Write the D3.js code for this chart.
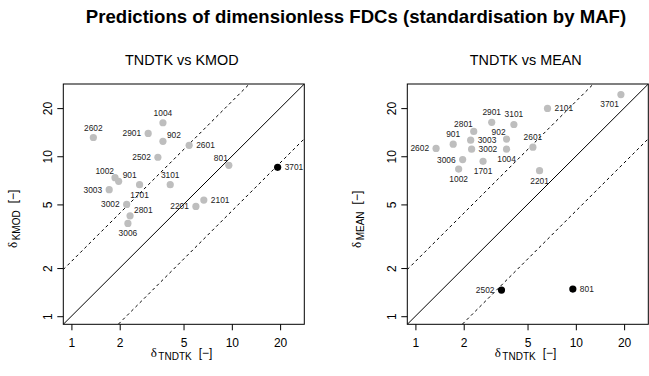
<!DOCTYPE html>
<html>
<head>
<meta charset="utf-8">
<script src="https://cdn.jsdelivr.net/npm/d3@7"></script>
<style>
  html, body { margin: 0; padding: 0; background: #fff; }
  svg { display: block; }
  text { font-family: "Liberation Sans", Arial, Helvetica, sans-serif; }
</style>
</head>
<body>
<svg id="chart" width="649" height="376"></svg>
<script>
// TNDTK vs KMOD
const kmodSites   = ["2602","1004","2901","902","2601","2502","801","3701","1002","901","1701","3101","3003","3002","2101","2201","2801","3006"];
const kmodTndtk   = [1.37, 3.72, 3.01, 3.72, 5.42, 3.46, 9.58, 19.3, 1.87, 1.97, 2.66, 4.13, 1.72, 2.21, 6.69, 5.97, 2.32, 2.25];
const kmodValues  = [13.1, 16.2, 13.9, 12.4, 11.7, 9.86, 8.78, 8.53, 7.35, 6.97, 6.64, 6.64, 6.18, 5.0, 5.32, 4.86, 4.24, 3.80];
const kmodFlagged = ["3701"];
const kmodLabelAt = ["n","n","w","ne","e","w","nw","e","nw","ne","s","n","w","w","e","w","ne","s"];

// TNDTK vs MEAN
const meanSites   = ["3701","2101","2901","3101","2801","902","3003","901","2602","3002","1004","2601","3006","1701","1002","2201","2502","801"];
const meanTndtk   = [19.1, 6.66, 2.99, 4.11, 2.31, 3.70, 2.21, 1.72, 1.345, 2.24, 3.70, 5.40, 1.97, 2.64, 1.86, 5.94, 3.44, 9.58];
const meanValues  = [24.3, 19.9, 16.3, 15.8, 14.3, 12.8, 12.6, 11.9, 11.2, 11.07, 11.07, 11.4, 9.53, 9.30, 8.32, 8.13, 1.456, 1.477];
const meanFlagged = ["2502","801"];
const meanLabelAt = ["sw","e","n","n","nw","nw","e","n","w","e","s","n","w","s","s","s","w","e"];

const tickValues = [1, 2, 5, 10, 20];
const axisDomain = [0.89, 28.3];
const bandFactor = 2.2;   // dashed envelope: y = x*f and y = x/f

const title = "Predictions of dimensionless FDCs (standardisation by MAF)";

const svg = d3.select("#chart");

svg.append("text")
  .attr("x", 356).attr("y", 23)
  .attr("text-anchor", "middle")
  .attr("font-size", "18.6px")
  .attr("font-weight", "bold")
  .text(title);

const panels = [
  { left: 63.3, sub: "KMOD", heading: "TNDTK vs KMOD", sites: kmodSites, xs: kmodTndtk, ys: kmodValues, flagged: kmodFlagged, labelAt: kmodLabelAt },
  { left: 407.3, sub: "MEAN", heading: "TNDTK vs MEAN", sites: meanSites, xs: meanTndtk, ys: meanValues, flagged: meanFlagged, labelAt: meanLabelAt }
];

const boxW = 241, boxTop = 84, boxBottom = 324.3;

panels.forEach((p, i) => {
  const x = d3.scaleLog().domain(axisDomain).range([p.left, p.left + boxW]);
  const y = d3.scaleLog().domain(axisDomain).range([boxBottom, boxTop]);
  const g = svg.append("g");

  const clipId = "clip" + i;
  svg.append("clipPath").attr("id", clipId)
    .append("rect").attr("x", p.left).attr("y", boxTop)
    .attr("width", boxW).attr("height", boxBottom - boxTop);

  // panel heading
  g.append("text")
    .attr("x", p.left + boxW / 2 - 2).attr("y", 64.5)
    .attr("text-anchor", "middle")
    .attr("font-size", "14.4px")
    .text(p.heading);

  // reference lines
  const lines = g.append("g").attr("clip-path", `url(#${clipId})`);
  const lo = axisDomain[0] / 3, hi = axisDomain[1] * 3;
  const seg = (f) => d3.line()([[x(lo), y(lo * f)], [x(hi), y(hi * f)]]);
  lines.append("path").attr("d", seg(1))
    .attr("stroke", "#000").attr("stroke-width", 1).attr("fill", "none");
  [bandFactor, 1 / bandFactor].forEach(f => {
    lines.append("path").attr("d", seg(f))
      .attr("stroke", "#000").attr("stroke-width", 1).attr("fill", "none")
      .attr("stroke-dasharray", "3,3");
  });

  // points
  const data = p.sites.map((s, k) => ({ site: s, x: p.xs[k], y: p.ys[k], at: p.labelAt[k], flag: p.flagged.includes(s) }));
  g.append("g").selectAll("circle").data(data).join("circle")
    .attr("cx", d => x(d.x)).attr("cy", d => y(d.y))
    .attr("r", 3.6)
    .attr("fill", d => d.flag ? "#000" : "#bebebe");

  // site labels
  const off = {
    n:  [0, -10, "middle"], s: [0, 10, "middle"],
    e:  [7, 0, "start"],    w: [-7, 0, "end"],
    ne: [4, -6, "start"],   nw: [-1, -7, "end"],
    se: [4, 6, "start"],    sw: [-2, 9, "end"]
  };
  g.append("g").selectAll("text").data(data).join("text")
    .attr("x", d => x(d.x) + off[d.at][0])
    .attr("y", d => y(d.y) + off[d.at][1])
    .attr("text-anchor", d => off[d.at][2])
    .attr("dominant-baseline", "central")
    .attr("font-size", "8.4px")
    .attr("fill", "#222")
    .text(d => d.site);

  // axes
  const xAxis = g.append("g").attr("transform", `translate(0,${boxBottom})`)
    .call(d3.axisBottom(x).tickValues(tickValues).tickSize(6).tickFormat(d3.format("d")));
  xAxis.select(".domain").remove();
  xAxis.selectAll("text").attr("font-size", "12px").attr("dy", null).attr("y", 23)
    .attr("font-family", '"Liberation Sans", Arial, sans-serif');

  const yAxis = g.append("g").attr("transform", `translate(${p.left},0)`)
    .call(d3.axisLeft(y).tickValues(tickValues).tickSize(6).tickFormat(d3.format("d")));
  yAxis.select(".domain").remove();
  yAxis.selectAll("text")
    .attr("x", null).attr("dy", null).attr("y", null)
    .attr("text-anchor", "middle")
    .attr("font-size", "12px")
    .attr("font-family", '"Liberation Sans", Arial, sans-serif')
    .attr("transform", "translate(-11,0) rotate(-90)");

  // frame
  g.append("rect").attr("x", p.left).attr("y", boxTop)
    .attr("width", boxW).attr("height", boxBottom - boxTop)
    .attr("fill", "none").attr("stroke", "#000").attr("stroke-width", 1);

  // x label: δ_TNDTK [−]
  const xl = g.append("text").attr("x", p.left + 87.4).attr("y", 357);
  xl.append("tspan").attr("font-family", '"Liberation Serif", "DejaVu Serif", serif').attr("font-size", "13px").text("δ");
  xl.append("tspan").attr("font-size", "10px").attr("dx", 1.5).attr("dy", 3).text("TNDTK");
  xl.append("tspan").attr("font-size", "12px").attr("dx", 7).attr("dy", -3).text("[−]");

  // y label: δ_KMOD / δ_MEAN [−]
  const yl = g.append("text").attr("transform", `translate(${p.left - 46},248) rotate(-90)`);
  yl.append("tspan").attr("font-family", '"Liberation Serif", "DejaVu Serif", serif').attr("font-size", "13px").text("δ");
  yl.append("tspan").attr("font-size", "10px").attr("dx", 1.5).attr("dy", 3).text(p.sub);
  yl.append("tspan").attr("font-size", "12px").attr("dx", 7).attr("dy", -3).text("[−]");
});
</script>
</body>
</html>
